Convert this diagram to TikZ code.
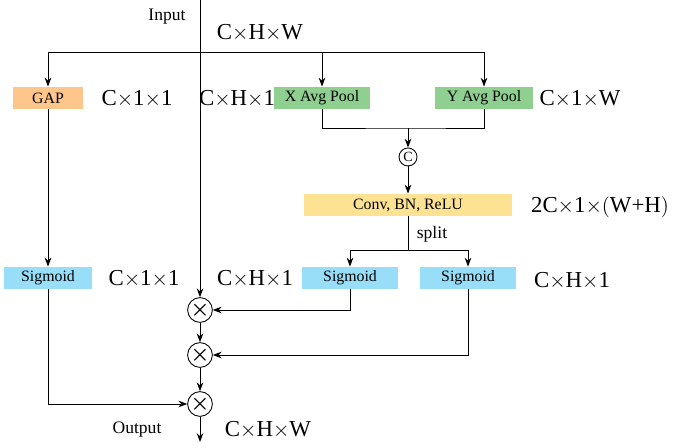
\documentclass[tikz,border=0pt]{standalone}
\usepackage{fontspec}
\setmainfont{Liberation Serif}
\usetikzlibrary{arrows.meta,positioning,calc}
\tikzstyle{block} = [rectangle, minimum height=0.44cm, inner sep=1pt, font=\fontsize{9}{10}\selectfont]
\tikzstyle{mult} = [circle, draw, fill=white, minimum size=0.4cm, inner sep=0pt, font=\boldmath\large]
\tikzstyle{dim} = [font=\fontsize{13}{15}\selectfont]
\tikzstyle{flow} = [-{Stealth[length=5pt]}]

\begin{document}
\begin{tikzpicture}[x=0.02cm, y=-0.02cm, line width=0.5pt]
    \useasboundingbox (0,0) rectangle (685,448);

    \node[font=\fontsize{10}{12}\selectfont] (input) at (167,17) {Input};
    \node[dim] at (260,33) {C$\times$H$\times$W};
    \coordinate (top) at (200,0);
    \coordinate (split) at (200,52);

    \node[block, fill=orange!45, minimum width=1.4cm] (gap) at (48,98) {GAP};
    \node[block, fill=green!25!lightgray, minimum width=1.92cm] (xpool) at (322,98) {X Avg Pool};
    \node[block, fill=green!25!lightgray, minimum width=1.96cm] (ypool) at (484,98) {Y Avg Pool};
    \node[dim] at (137,99) {C$\times$1$\times$1};
    \node[dim] at (237,99) {C$\times$H$\times$1};
    \node[dim] at (580,99) {C$\times$1$\times$W};

    \draw (split -| gap) -- (split -| ypool);
    \draw[flow] (split -| gap) -- (gap);
    \draw[flow] (split -| xpool) -- (xpool);
    \draw[flow] (split -| ypool) -- (ypool);

    \node[mult, minimum size=0.36cm, font=\fontsize{8}{8}\selectfont] (cat) at (408,157) {C};
    \coordinate (join) at (408,128);
    \draw (xpool) |- (join) -| (ypool);
    \draw[flow] (join) -- (cat);

    \node[block, fill=yellow!50!orange!40, minimum width=4.16cm] (conv) at (408,205) {Conv, BN, ReLU};
    \node[dim] at (600,207) {2C$\times$1$\times$$\big($W+H$\big)$};
    \draw[flow] (cat) -- (conv);
    \node[font=\fontsize{10}{12}\selectfont] at (432,234) {split};

    \node[block, fill=cyan!40, minimum width=1.92cm] (sigx) at (350,278) {Sigmoid};
    \node[block, fill=cyan!40, minimum width=1.92cm] (sigy) at (468,278) {Sigmoid};
    \node[block, fill=cyan!40, minimum width=1.76cm] (sigc) at (48,278) {Sigmoid};
    \node[dim] at (144,279) {C$\times$1$\times$1};
    \node[dim] at (255,279) {C$\times$H$\times$1};
    \node[dim] at (572,281) {C$\times$H$\times$1};

    \coordinate (branch) at (408,250);
    \draw (conv) -- (branch);
    \draw (branch -| sigx) -- (branch -| sigy);
    \draw[flow] (branch -| sigx) -- (sigx);
    \draw[flow] (branch -| sigy) -- (sigy);
    \draw[flow] (gap) -- (sigc);

    \node[mult] (m1) at (200,310) {$\times$};
    \node[mult] (m2) at (200,355) {$\times$};
    \node[mult] (m3) at (200,404) {$\times$};
    \draw[flow] (top) -- (m1);
    \draw[flow] (m1) -- (m2);
    \draw[flow] (m2) -- (m3);
    \draw[flow] (sigx) |- (m1);
    \draw[flow] (sigy) |- (m2);
    \draw[flow] (sigc) |- (m3);

    \coordinate (bottom) at (200,442);
    \draw[flow] (m3) -- (bottom);
    \node[font=\fontsize{10}{12}\selectfont] (output) at (137,430) {Output};
    \node[dim] at (268,430) {C$\times$H$\times$W};
\end{tikzpicture}
\end{document}
